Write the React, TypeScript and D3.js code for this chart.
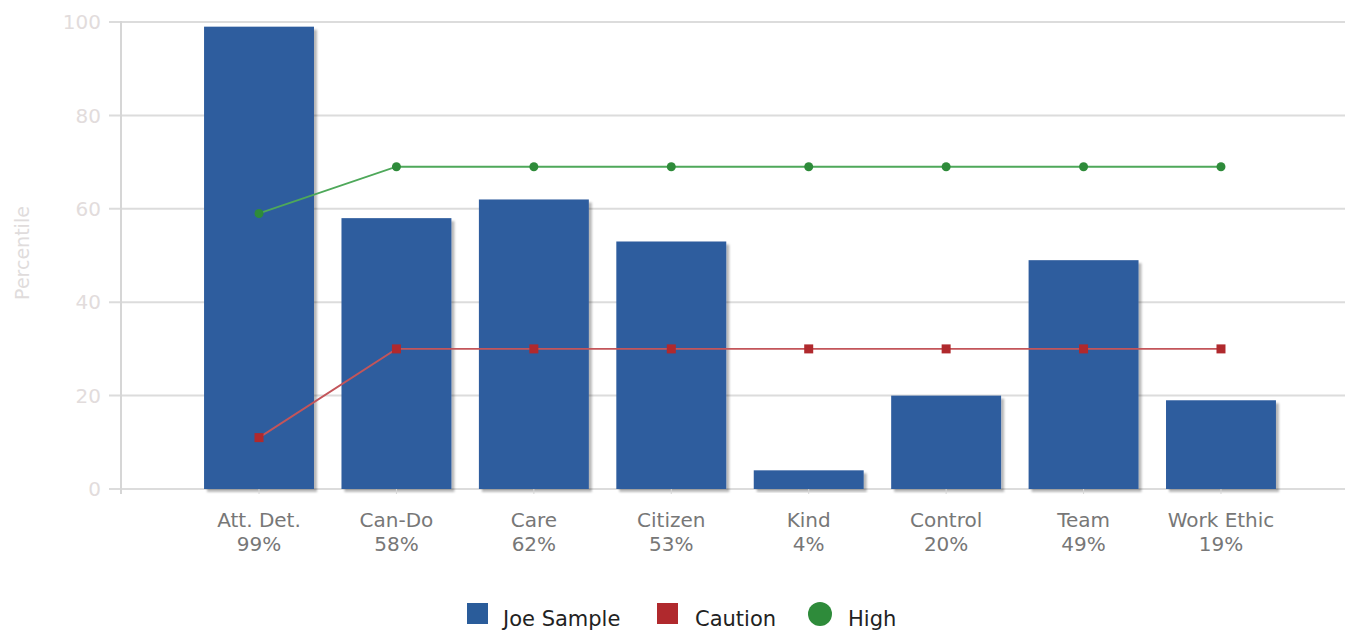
import React from "react";
import * as d3 from "d3";

const categories = ["Att. Det.", "Can-Do", "Care", "Citizen", "Kind", "Control", "Team", "Work Ethic"];
const scores = [99, 58, 62, 53, 4, 20, 49, 19];
const caution = [11, 30, 30, 30, 30, 30, 30, 30];
const high = [59, 69, 69, 69, 69, 69, 69, 69];
const yTicks = [0, 20, 40, 60, 80, 100];
const legendItems = [
  { label: "Joe Sample", color: "#2a5c9a", shape: "square" },
  { label: "Caution", color: "#b0292d", shape: "square" },
  { label: "High", color: "#2e8b3a", shape: "circle" },
];

const W = 1345;
const H = 630;
const plotLeft = 121;
const plotRight = 1345;
const plotTop = 22;
const plotBottom = 489;
const FONT = "'DejaVu Sans', Verdana, sans-serif";

export default function App() {
  const x = d3
    .scaleBand<string>()
    .domain(categories)
    .range([190.3, 1289.7])
    .paddingInner(0.2)
    .paddingOuter(0.1);
  const y = d3.scaleLinear().domain([0, 100]).range([plotBottom, plotTop]);
  const cx = (c: string) => (x(c) ?? 0) + x.bandwidth() / 2;

  const line = d3
    .line<number>()
    .x((_, i) => cx(categories[i]))
    .y((d) => y(d));

  const legendPos = [467, 657, 808];
  const legendText = [503, 695, 848];

  return (
    <svg width={W} height={H} style={{ position: "absolute", left: 0, top: 0 }} fontFamily={FONT}>
      <defs>
        <filter id="barShadow" x="-10%" y="-10%" width="130%" height="130%">
          <feDropShadow dx="3" dy="3" stdDeviation="1.3" floodColor="#000" floodOpacity="0.28" />
        </filter>
      </defs>
      <rect width={W} height={H} fill="#fff" />

      {/* horizontal grid and y ticks */}
      {yTicks.map((t) => (
        <g key={t}>
          <line x1={109} x2={plotRight} y1={y(t)} y2={y(t)} stroke="#dcdcdc" strokeWidth={2} />
          <text x={101} y={y(t)} dy="0.36em" textAnchor="end" fontSize={20} fill="#e2dcdc">
            {t}
          </text>
        </g>
      ))}
      <line x1={plotLeft} x2={plotLeft} y1={plotTop - 1} y2={plotBottom + 5} stroke="#d6d6d6" strokeWidth={2} />
      <text
        transform={`translate(29, ${253}) rotate(-90)`}
        textAnchor="middle"
        fontSize={19}
        fill="#e0dcdc"
      >
        Percentile
      </text>

      {/* bars */}
      {categories.map((c, i) => (
        <rect
          key={c}
          x={x(c)}
          y={y(scores[i])}
          width={x.bandwidth()}
          height={plotBottom - y(scores[i])}
          fill="#2f5d9e"
          filter="url(#barShadow)"
        />
      ))}

      {/* x ticks and labels */}
      {categories.map((c, i) => (
        <g key={c}>
          <line x1={cx(c)} x2={cx(c)} y1={plotBottom} y2={plotBottom + 5} stroke="#d6d6d6" strokeWidth={1} />
          <text x={cx(c)} y={527} textAnchor="middle" fontSize={20} fill="#777">
            {c}
          </text>
          <text x={cx(c)} y={551} textAnchor="middle" fontSize={20} fill="#777">
            {scores[i]}%
          </text>
        </g>
      ))}

      {/* reference lines */}
      <path d={line(high) ?? ""} fill="none" stroke="#4ea85a" strokeWidth={1.8} />
      {high.map((v, i) => (
        <circle key={i} cx={cx(categories[i])} cy={y(v)} r={4.5} fill="#2e8b3a" />
      ))}
      <path d={line(caution) ?? ""} fill="none" stroke="#c3555a" strokeWidth={1.8} />
      {caution.map((v, i) => (
        <rect key={i} x={cx(categories[i]) - 4.5} y={y(v) - 4.5} width={9} height={9} fill="#b0292d" />
      ))}

      {/* legend */}
      {legendItems.map((it, i) => (
        <g key={it.label}>
          {it.shape === "square" ? (
            <rect x={legendPos[i]} y={603} width={21} height={21} fill={it.color} />
          ) : (
            <circle cx={legendPos[i] + 12} cy={614} r={12} fill={it.color} />
          )}
          <text x={legendText[i]} y={626} fontSize={21} fill="#222">
            {it.label}
          </text>
        </g>
      ))}
    </svg>
  );
}
